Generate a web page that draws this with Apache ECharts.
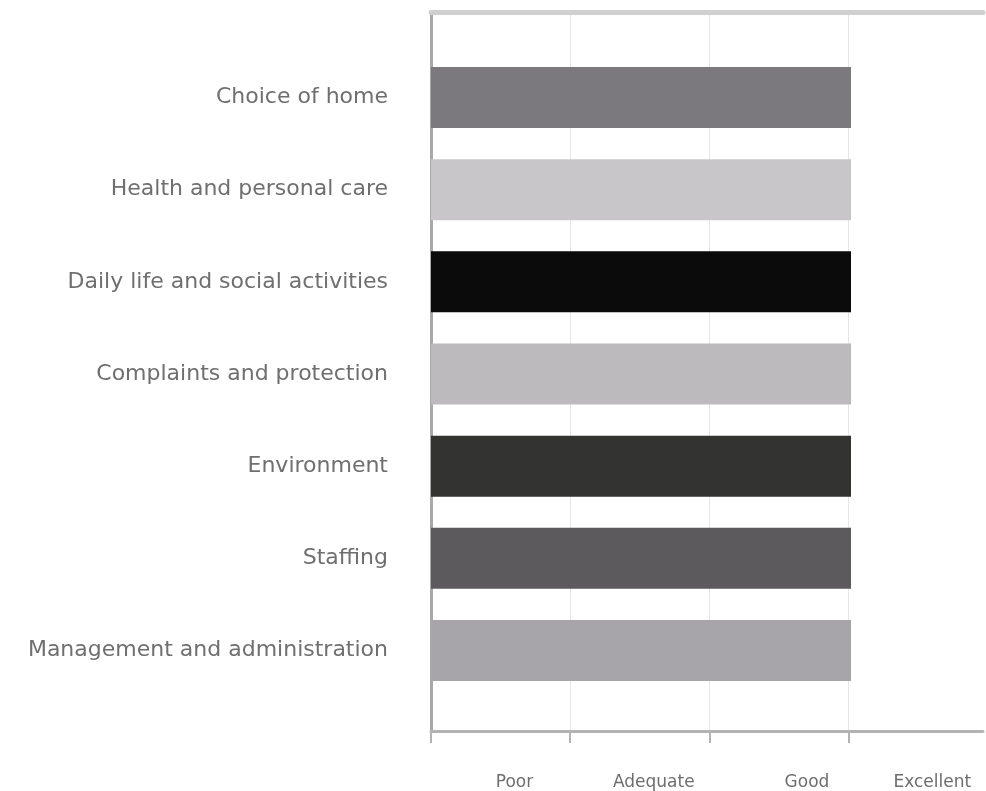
<!DOCTYPE html>
<html>
<head>
<meta charset="utf-8">
<script src="https://cdn.jsdelivr.net/npm/echarts@6/dist/echarts.min.js"></script>
<style>
html,body{margin:0;padding:0;background:#ffffff;}
#chart{width:986px;height:791px;}
</style>
</head>
<body>
<div id="chart"></div>
<script>
// Data
const categories = [
  'Choice of home',
  'Health and personal care',
  'Daily life and social activities',
  'Complaints and protection',
  'Environment',
  'Staffing',
  'Management and administration'
];
const values = [3, 3, 3, 3, 3, 3, 3];
const barColors = ['#7c797e', '#c9c6ca', '#0b0b0b', '#bcbabd', '#333332', '#5d5a5e', '#a8a5aa'];
const ratingLabels = ['Poor', 'Adequate', 'Good', 'Excellent'];
const ratingLabelPos = [0.6, 1.6, 2.7, 3.6];
const tickValues = [0, 1, 2, 3];

const chart = echarts.init(document.getElementById('chart'), null, {renderer: 'canvas'});

const labelMap = {};
ratingLabelPos.forEach((p, i) => { labelMap[Math.round(p * 10)] = ratingLabels[i]; });

// visible part of the scale (axis continues slightly past the right edge)
const axisMax = 555 / 140;

const option = {
  animation: false,
  backgroundColor: '#ffffff',
  grid: [
    {left: 431, top: 12, width: 555, height: 723, containLabel: false},
    {left: 431, top: 51.5, width: 555, height: 645, containLabel: false}
  ],
  xAxis: [
    {
      gridIndex: 0, type: 'value', min: 0, max: axisMax, interval: 1, position: 'bottom',
      axisLine: {show: true, lineStyle: {color: '#b3b3b3', width: 3}},
      axisTick: {show: true, length: 12, customValues: tickValues, lineStyle: {color: '#b3b3b3', width: 2}},
      axisLabel: {show: false},
      splitLine: {show: true, lineStyle: {color: '#e6e6e6', width: 1}}
    },
    {
      gridIndex: 0, type: 'value', min: 0, max: axisMax, position: 'top',
      axisLine: {show: true, lineStyle: {color: '#d0d0d0', width: 5}},
      axisTick: {show: false}, axisLabel: {show: false}, splitLine: {show: false}
    },
    {
      gridIndex: 0, type: 'value', min: 0, max: axisMax, interval: 0.1, position: 'bottom', offset: 35,
      axisLine: {show: false}, axisTick: {show: false}, splitLine: {show: false},
      axisLabel: {
        show: true, fontSize: 17, color: '#6e6e6e', fontFamily: 'DejaVu Sans',
        formatter: function (v) { return labelMap[Math.round(v * 10)] || ''; }
      }
    },
    {
      gridIndex: 1, type: 'value', min: 0, max: axisMax, show: false
    }
  ],
  yAxis: [
    {
      gridIndex: 0, type: 'value', min: 0, max: 1, position: 'left',
      axisLine: {show: true, lineStyle: {color: '#a8a8a8', width: 3}},
      axisTick: {show: false}, axisLabel: {show: false}, splitLine: {show: false}
    },
    {
      gridIndex: 1, type: 'category', inverse: true, data: categories,
      axisLine: {show: false}, axisTick: {show: false}, splitLine: {show: false},
      axisLabel: {margin: 43, fontSize: 22, color: '#6f6f6f', fontFamily: 'DejaVu Sans'}
    }
  ],
  series: [
    {
      type: 'bar', xAxisIndex: 3, yAxisIndex: 1, barWidth: 61,
      data: values.map((v, i) => ({value: v, itemStyle: {color: barColors[i]}}))
    }
  ]
};
chart.setOption(option);
</script>
</body>
</html>
